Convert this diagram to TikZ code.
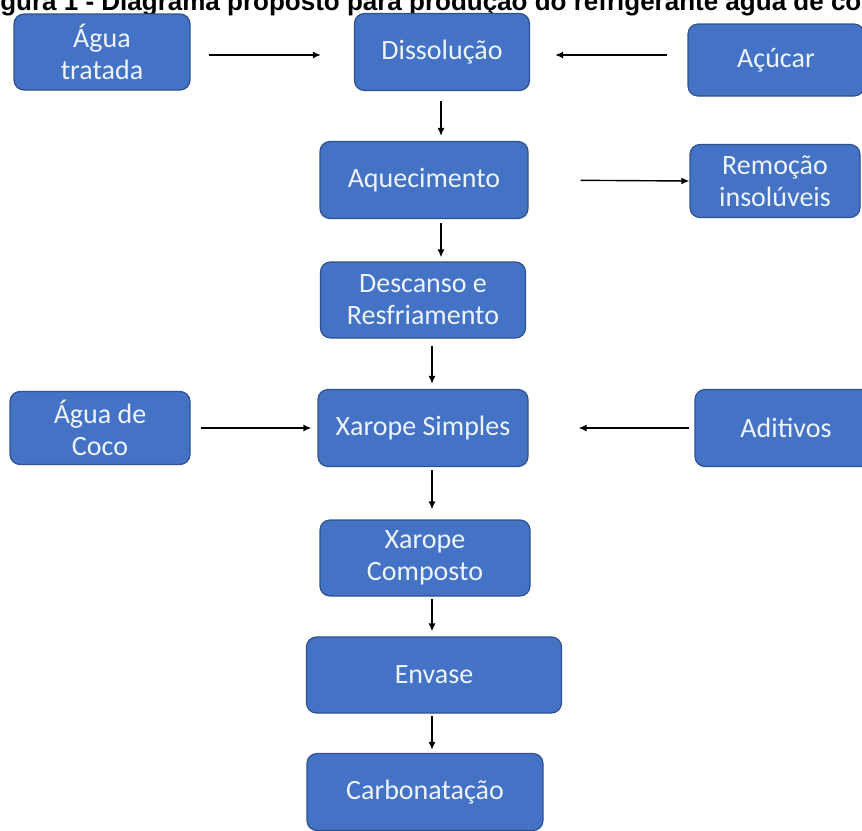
\documentclass[tikz,border=0pt]{standalone}
\usepackage{fontspec}
\setmainfont{Carlito}
\newfontfamily\titlefont{Liberation Sans}
\usepackage{tikz}
\usetikzlibrary{arrows.meta,calc}
\definecolor{caixaazul}{HTML}{4472C4}
\definecolor{bordaazul}{HTML}{2F528F}
\definecolor{textoclaro}{HTML}{EEF4FF}
\tikzset{
  etapa/.style={rectangle, rounded corners=10pt, fill=caixaazul, draw=bordaazul,
    line width=1.2pt, text=textoclaro, align=center,
    font=\fontsize{28}{32}\selectfont, inner sep=0pt},
  seta/.style={-{Latex[length=8pt,width=7pt]}, line width=1.4pt, black}
}

\begin{document}
\begin{tikzpicture}[x=1pt,y=-1pt]
                \useasboundingbox (0,0) rectangle (862,830);
                % title, cut at the top of the page
                \node[anchor=base west, font=\titlefont\bfseries\fontsize{26}{30}\selectfont, inner sep=0pt]
                  (titulo) at (-23,10) {Figura 1 - Diagrama proposto para produção do refrigerante água de coco};
                % boxes
                \node[etapa, minimum width=176pt, minimum height=76pt] (agua) at (102,52) {Água\\tratada};
                \node[etapa, minimum width=175pt, minimum height=77pt] (dissol) at (442,52) {Dissolução};
                \node[etapa, minimum width=176pt, minimum height=72pt] (acucar) at (776,60) {Açúcar};
                \node[etapa, minimum width=208pt, minimum height=77pt] (aquec) at (424,180) {Aquecimento};
                \node[etapa, minimum width=170pt, minimum height=73pt] (remocao) at (775,181) {Remoção\\insolúveis};
                \node[etapa, minimum width=205pt, minimum height=76pt] (descanso) at (423,300) {Descanso e\\Resfriamento};
                \node[etapa, minimum width=180pt, minimum height=73pt] (coco) at (100,428) {Água de\\Coco};
                \node[etapa, minimum width=210pt, minimum height=77pt] (xsimples) at (423,428) {Xarope Simples};
                \node[etapa, minimum width=182pt, minimum height=77pt] (aditivos) at (786,428) {Aditivos};
                \node[etapa, minimum width=210pt, minimum height=76pt] (xcomposto) at (425,558) {Xarope\\Composto};
                \node[etapa, minimum width=255pt, minimum height=76pt] (envase) at (434,675) {Envase};
                \node[etapa, minimum width=236pt, minimum height=77pt] (carbo) at (425,792) {Carbonatação};
                % horizontal arrows
                \coordinate (nivel) at (0,55);
                \draw[seta, shorten <=18pt, shorten >=33pt] (agua.east |- nivel) -- (dissol.west |- nivel);
                \draw[seta, shorten <=20pt, shorten >=25pt] (acucar.west |- nivel) -- (dissol.east |- nivel);
                \draw[seta, shorten <=52pt] (aquec.east) -- (remocao.west);
                \draw[seta, shorten <=10pt, shorten >=6pt] (coco.east) -- (xsimples.west);
                \draw[seta, shorten <=5pt, shorten >=50pt] (aditivos.west) -- (xsimples.east);
                % vertical arrows
                \draw[seta, shorten <=10pt, shorten >=5pt] ([xshift=-1pt]dissol.south) -- ([xshift=-1pt]dissol.south |- aquec.north);
                \draw[seta, shorten <=4pt, shorten >=4pt] ([xshift=17pt]aquec.south) -- ([xshift=17pt]aquec.south |- descanso.north);
                \draw[seta, shorten <=7pt, shorten >=5pt] ([xshift=9pt]descanso.south) -- ([xshift=9pt]descanso.south |- xsimples.north);
                \draw[seta, shorten <=3pt, shorten >=10pt] ([xshift=9pt]xsimples.south) -- ([xshift=9pt]xsimples.south |- xcomposto.north);
                \draw[seta, shorten <=2pt, shorten >=5pt] ([xshift=7pt]xcomposto.south) -- ([xshift=7pt]xcomposto.south |- envase.north);
                \draw[seta, shorten <=2pt, shorten >=3pt] ([xshift=-2pt]envase.south) -- ([xshift=-2pt]envase.south |- carbo.north);
\end{tikzpicture}
\end{document}
